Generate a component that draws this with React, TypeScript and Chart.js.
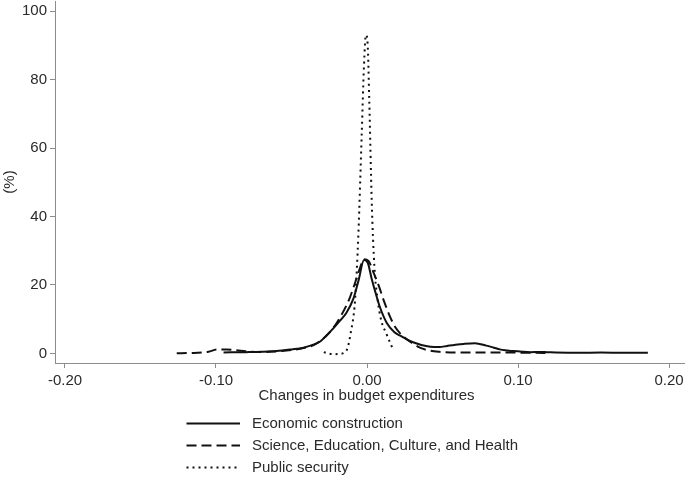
import React, { useEffect, useRef } from 'react';
import { Chart, registerables } from 'chart.js';

Chart.register(...registerables);

// ---- data ----
const xTickValues = [-0.2, -0.1, 0, 0.1, 0.2];
const yTickValues = [0, 20, 40, 60, 80, 100];
const xTitle = 'Changes in budget expenditures';
const yTitle = '(%)';
const seriesLabels = [
  'Economic construction',
  'Science, Education, Culture, and Health',
  'Public security',
];

const econX = [-0.095, -0.08, -0.07, -0.06, -0.05, -0.042, -0.036, -0.031, -0.027, -0.022, -0.018, -0.0135, -0.009, -0.0055, -0.002, 0.0005, 0.003, 0.0055, 0.0086, 0.013, 0.018, 0.022, 0.027, 0.031, 0.036, 0.042, 0.048, 0.053, 0.058, 0.064, 0.0715, 0.079, 0.084, 0.088, 0.093, 0.097, 0.103, 0.108, 0.115, 0.119, 0.125, 0.14, 0.155, 0.17, 0.186];
const econY = [0.3, 0.4, 0.5, 0.7, 1.2, 1.7, 2.5, 3.5, 5.2, 7.5, 9.5, 12, 16, 21.5, 27.3, 26.5, 22, 18, 13.5, 9, 6.3, 5.2, 4.0, 3.2, 2.5, 2.0, 1.9, 2.2, 2.5, 2.8, 3.0, 2.3, 1.7, 1.2, 0.9, 0.7, 0.5, 0.4, 0.45, 0.4, 0.3, 0.2, 0.3, 0.2, 0.2];

const sciX = [-0.126, -0.115, -0.105, -0.099, -0.093, -0.085, -0.077, -0.068, -0.06, -0.05, -0.042, -0.035, -0.03, -0.025, -0.02, -0.016, -0.012, -0.008, -0.005, -0.002, 0.001, 0.004, 0.008, 0.011, 0.015, 0.019, 0.024, 0.03, 0.035, 0.04, 0.048, 0.055, 0.07, 0.085, 0.1, 0.11, 0.12];
const sciY = [0.1, 0.15, 0.5, 1.2, 1.2, 0.9, 0.5, 0.4, 0.6, 1.0, 1.6, 2.5, 4.0, 6.0, 9.0, 12, 15.6, 20.5, 24.5, 27.5, 27, 24, 19.5, 15.6, 11, 7.5, 5.0, 3.0, 1.7, 1.0, 0.5, 0.3, 0.3, 0.3, 0.25, 0.2, 0.1];

const secX = [-0.0286, -0.026, -0.022, -0.018, -0.0134, -0.0108, -0.0079, -0.0057, -0.0035, -0.002, -0.0007, 0.0004, 0.0015, 0.0031, 0.0049, 0.0071, 0.0095, 0.0126, 0.0174];
const secY = [0.4, 0.05, -0.2, -0.1, 1.0, 6, 15.6, 35, 64, 84, 93, 90.6, 74, 44.8, 25.3, 15.6, 9.5, 6, 1.0];

const FONT = '"Liberation Sans", Arial, Helvetica, sans-serif';
const TEXT = '#2a2a2a';
const AXIS = '#8c8c8c';
const LINE = '#111111';

const toPoints = (xs: number[], ys: number[]) => xs.map((x, i) => ({ x, y: ys[i] }));

const annotationPlugin = {
  id: 'annotations',
  afterDraw(chart: any) {
    const ctx: CanvasRenderingContext2D = chart.ctx;
    const area = chart.chartArea;
    ctx.save();
    ctx.fillStyle = TEXT;
    ctx.font = `15px ${FONT}`;
    ctx.textAlign = 'center';
    ctx.textBaseline = 'middle';
    ctx.fillText(xTitle, (area.left + area.right) / 2 - 3, 395.5);

    ctx.save();
    ctx.translate(9.5, (area.top + area.bottom) / 2);
    ctx.rotate(-Math.PI / 2);
    ctx.fillText(yTitle, 0, 0);
    ctx.restore();

    // legend
    const rows = [423.5, 445.5, 467.5];
    chart.data.datasets.forEach((ds: any, i: number) => {
      const y = rows[i];
      ctx.save();
      ctx.strokeStyle = ds.borderColor;
      ctx.lineWidth = ds.borderWidth;
      ctx.setLineDash(ds.borderDash || []);
      ctx.beginPath();
      ctx.moveTo(186.5, y);
      ctx.lineTo(240, y);
      ctx.stroke();
      ctx.restore();
      ctx.textAlign = 'left';
      ctx.fillText(ds.label, 252, y + 0.8);
    });
    ctx.restore();
  },
};

export default function App() {
  const canvasRef = useRef<HTMLCanvasElement | null>(null);

  useEffect(() => {
    if (!canvasRef.current) return;
    Chart.defaults.font.family = FONT;
    const chart = new Chart(canvasRef.current, {
      type: 'line',
      data: {
        datasets: [
          {
            label: seriesLabels[0],
            data: toPoints(econX, econY),
            borderColor: LINE,
            borderWidth: 2,
            pointRadius: 0,
            cubicInterpolationMode: 'monotone',
            fill: false,
          },
          {
            label: seriesLabels[1],
            data: toPoints(sciX, sciY),
            borderColor: LINE,
            borderWidth: 2,
            borderDash: [10, 5],
            pointRadius: 0,
            cubicInterpolationMode: 'monotone',
            fill: false,
          },
          {
            label: seriesLabels[2],
            data: toPoints(secX, secY),
            borderColor: LINE,
            borderWidth: 2,
            borderDash: [2, 4],
            pointRadius: 0,
            cubicInterpolationMode: 'monotone',
            fill: false,
          },
        ],
      },
      options: {
        responsive: false,
        animation: false,
        devicePixelRatio: 1,
        layout: { padding: { top: 1, right: 1, left: 0, bottom: 0 } },
        plugins: {
          legend: { display: false },
          tooltip: { enabled: false },
        },
        scales: {
          x: {
            type: 'linear',
            min: -0.20662,
            max: 0.20993,
            afterBuildTicks: (scale: any) => {
              scale.ticks = xTickValues.map((v) => ({ value: v }));
            },
            afterFit: (scale: any) => {
              scale.height = 115;
              scale.paddingLeft = 0;
              scale.paddingRight = 0;
            },
            grid: {
              display: true,
              drawOnChartArea: false,
              drawTicks: true,
              tickLength: 5,
              color: AXIS,
            },
            border: { display: true, color: AXIS, width: 1 },
            ticks: {
              color: TEXT,
              font: { size: 15 },
              padding: 4,
              maxRotation: 0,
              autoSkip: false,
              callback: (v: any) => Number(v).toFixed(2),
            },
          },
          y: {
            type: 'linear',
            min: -2.774,
            max: 102.92,
            afterBuildTicks: (scale: any) => {
              scale.ticks = yTickValues.map((v) => ({ value: v }));
            },
            afterFit: (scale: any) => {
              scale.width = 55;
              scale.paddingTop = 0;
              scale.paddingBottom = 0;
            },
            grid: {
              display: true,
              drawOnChartArea: false,
              drawTicks: true,
              tickLength: 5,
              color: AXIS,
            },
            border: { display: true, color: AXIS, width: 1 },
            ticks: {
              color: TEXT,
              font: { size: 15 },
              padding: 3,
              autoSkip: false,
              callback: (v: any) => String(Math.round(Number(v))),
            },
          },
        },
      },
      plugins: [annotationPlugin],
    } as any);
    return () => chart.destroy();
  }, []);

  return (
    <div style={{ position: 'absolute', left: 0, top: 0, width: 685, height: 478, background: '#fff' }}>
      <canvas ref={canvasRef} width={685} height={478} style={{ display: 'block' }} />
    </div>
  );
}
